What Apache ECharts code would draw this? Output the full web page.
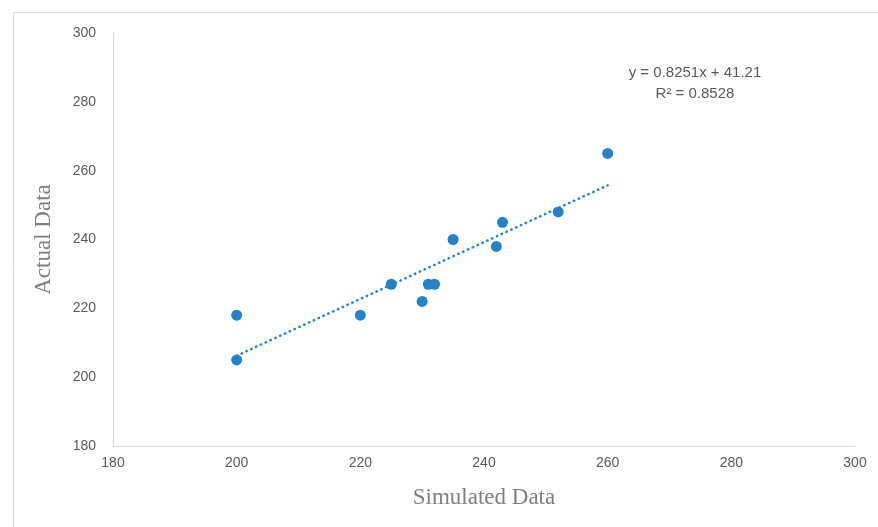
<!DOCTYPE html>
<html><head><meta charset="utf-8">
<script src="https://cdn.jsdelivr.net/npm/echarts@6/dist/echarts.min.js"></script>
<style>html,body{margin:0;padding:0;background:#fff}#c{width:878px;height:527px}</style>
</head><body><div id="c"></div>
<script>
var simulated = [200, 200, 220, 225, 230, 231, 232, 235, 242, 243, 252, 260];
var actual    = [218, 205, 218, 227, 222, 227, 227, 240, 238, 245, 248, 265];
var slope = 0.8251, intercept = 41.21;
var trendX = [200, 260];
var xTicks = [180, 200, 220, 240, 260, 280, 300];
var yTicks = [180, 200, 220, 240, 260, 280, 300];
var eqText = ['y = 0.8251x + 41.21', 'R\u00b2 = 0.8528'];

var pts = simulated.map(function(x, i){ return [x, actual[i]]; });
var trend = trendX.map(function(x){ return [x, slope * x + intercept]; });

var chart = echarts.init(document.getElementById('c'));
chart.setOption({
  backgroundColor: '#fff',
  animation: false,
  grid: {left: 113, right: 23, top: 33, bottom: 81},
  graphic: [
    {type: 'rect', shape: {x: 13.5, y: 12.5, width: 900, height: 600}, style: {fill: 'none', stroke: '#d9d9d9', lineWidth: 1}, silent: true, z: -1},
    {type: 'text', x: 695, y: 73, style: {text: eqText[0], fill: '#595959', font: '15px "Liberation Sans", Arial, sans-serif', textAlign: 'center', textVerticalAlign: 'middle'}},
    {type: 'text', x: 695, y: 94, style: {text: eqText[1], fill: '#595959', font: '15px "Liberation Sans", Arial, sans-serif', textAlign: 'center', textVerticalAlign: 'middle'}}
  ],
  xAxis: {
    type: 'value', min: xTicks[0], max: xTicks[xTicks.length-1], interval: 20,
    name: 'Simulated Data', nameLocation: 'middle', nameGap: 40,
    nameTextStyle: {fontFamily: 'Liberation Serif', fontSize: 23, color: '#7f7f7f'},
    axisLine: {show: true, lineStyle: {color: '#d9d9d9', width: 1}},
    axisTick: {show: false},
    splitLine: {show: false},
    axisLabel: {color: '#595959', fontSize: 14, margin: 10, fontFamily: 'Liberation Sans'}
  },
  yAxis: {
    type: 'value', min: yTicks[0], max: yTicks[yTicks.length-1], interval: 20,
    name: 'Actual Data', nameLocation: 'middle', nameGap: 58,
    nameTextStyle: {fontFamily: 'Liberation Serif', fontSize: 23, color: '#7f7f7f'},
    axisLine: {show: true, lineStyle: {color: '#d9d9d9', width: 1}},
    axisTick: {show: false},
    splitLine: {show: false},
    axisLabel: {color: '#595959', fontSize: 14, margin: 17, fontFamily: 'Liberation Sans'}
  },
  series: [
    {type: 'line', data: trend, showSymbol: false, symbol: 'none',
     lineStyle: {color: '#2a82c4', width: 2.5, type: [0.5, 4.8], cap: 'round'}, z: 1},
    {type: 'scatter', data: pts, symbolSize: 11,
     itemStyle: {color: '#2781c2', opacity: 1}, z: 2}
  ]
});
</script></body></html>
